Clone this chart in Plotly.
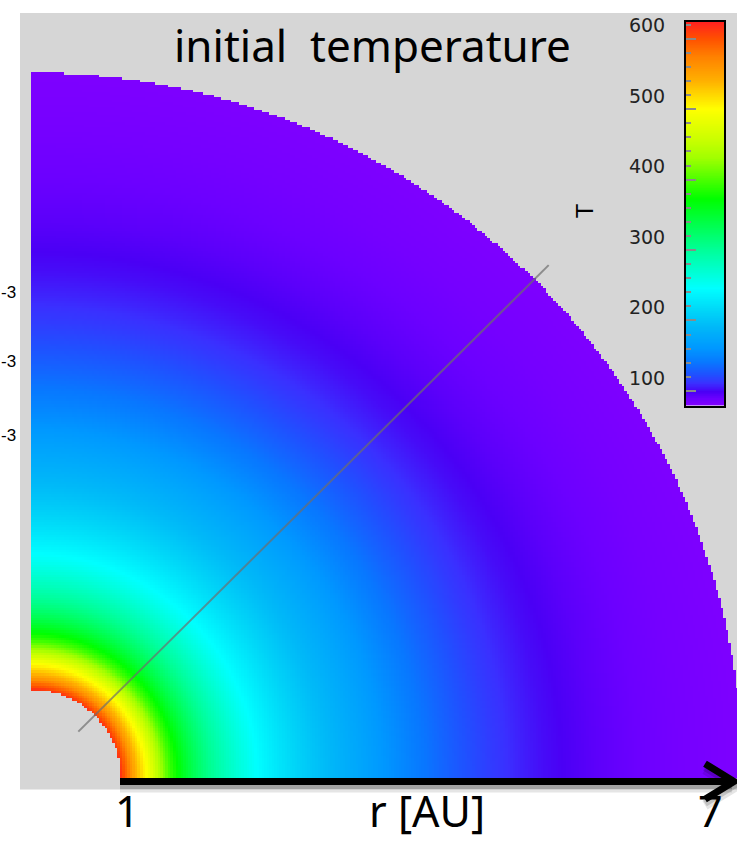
import numpy as np
import plotly.graph_objects as go

# Radial temperature profile of the initial disc (r in AU, T in K)
radius_au = [0.887, 0.92, 0.96, 0.99, 1.02, 1.05, 1.08, 1.11, 1.14, 1.17, 1.20,
             1.24, 1.28, 1.32, 1.36, 1.41, 1.46, 1.52, 1.58, 1.66, 1.74, 1.83,
             1.93, 2.04, 2.16, 2.30, 2.46, 2.64, 2.84, 3.06, 3.30, 3.55, 3.80,
             4.05, 4.30, 4.55, 4.80, 5.05, 5.30, 5.55, 5.80, 6.10, 6.40, 6.70, 7.02]
temperature_k = [615, 598, 580, 562, 548, 535, 522, 510, 498, 485, 470,
                 452, 433, 415, 398, 382, 368, 352, 338, 322, 308, 294,
                 280, 266, 252, 238, 224, 210, 196, 183, 170, 156, 143,
                 132, 122, 114, 107, 101, 97, 93, 90, 87, 84, 82, 80]

# Colour bar range and tick values
t_min, t_max = 79, 624
cbar_ticks = [100, 200, 300, 400, 500, 600]

# Rainbow colour map used for T
cmap_t = [79, 88, 98, 110, 122, 140, 160, 190, 215, 245, 300, 372, 430, 455,
          500, 540, 575, 600, 624]
cmap_c = ["#8000ff", "#6c00ff", "#4a00f5", "#3a30ff", "#2050ff", "#0878ff",
          "#0098ff", "#00b8f8", "#00d8f8", "#00ffff", "#00ff98", "#00ff00",
          "#a0ff00", "#c8ff00", "#ffff00", "#ffb000", "#ff8000", "#ff5000",
          "#ff2020"]
colorscale = [[(t - t_min) / (t_max - t_min), c] for t, c in zip(cmap_t, cmap_c)]

# Page geometry: origin of the disc and pixels per AU
W, H = 737, 841
ox, oy, scale = 31.0, 778.0, 101.4
r_in, r_out = radius_au[0], radius_au[-1]

def px(x):
    return (x - ox) / scale

def py(y):
    return (oy - y) / scale

# Raster of the quarter annulus, shaded from the radial profile
step = 0.025
gx = np.arange(step / 2, r_out + step, step)
gy = np.arange(step / 2, r_out + step, step)
XX, YY = np.meshgrid(gx, gy)
RR = np.hypot(XX, YY)
Z = np.interp(RR, radius_au, temperature_k)
Z[(RR < r_in) | (RR > r_out)] = np.nan

fig = go.Figure()
fig.add_trace(go.Heatmap(
    x=gx, y=gy, z=Z, zmin=t_min, zmax=t_max, colorscale=colorscale,
    hoverinfo="skip", zsmooth=False, showscale=False,
))

# Colour key: a vertical strip on its own small axis pair
key_vals = np.arange(t_min, t_max + 1)
fig.add_trace(go.Heatmap(
    x=[0, 1], y=key_vals, z=[[v, v] for v in key_vals], zmin=t_min, zmax=t_max,
    colorscale=colorscale, showscale=False, hoverinfo="skip",
    xaxis="x2", yaxis="y2",
))

shapes = [
    # grey frame behind the disc
    dict(type="rect", xref="paper", yref="paper", x0=20 / W, x1=1,
         y0=1 - 789 / H, y1=1 - 6 / H, fillcolor="#d6d6d6", line_width=0,
         layer="below"),
    # diagonal slice line
    dict(type="line", x0=0.66 * np.cos(np.pi / 4), y0=0.66 * np.sin(np.pi / 4),
         x1=7.22 * np.cos(np.pi / 4), y1=7.22 * np.sin(np.pi / 4),
         line=dict(color="rgba(110,110,110,0.7)", width=2)),
]

# radius arrow with a soft shadow
ay = py(781)
x_start, x_end = px(120), px(734)
head_dx, head_dy = 29 / scale, 18 / scale
for dy, col, w in [(-6 / scale, "rgba(0,0,0,0.10)", 10),
                   (-4 / scale, "rgba(0,0,0,0.15)", 7),
                   (0, "black", 7)]:
    shapes.append(dict(type="line", x0=x_start, x1=x_end - 0.02, y0=ay + dy, y1=ay + dy,
                       line=dict(color=col, width=w)))
    shapes.append(dict(type="path",
                       path=f"M {x_end - head_dx},{ay + dy + head_dy} L {x_end},{ay + dy} "
                            f"L {x_end - head_dx},{ay + dy - head_dy}",
                       line=dict(color=col, width=w)))

annotations = [
    dict(text="initial&nbsp; temperature", x=372 / W, y=1 - 38 / H, xref="paper",
         yref="paper", xanchor="center", yanchor="middle", showarrow=False,
         font=dict(family="Noto Sans", size=44, color="black")),
    dict(text="T", x=584 / W, y=1 - 206 / H, xref="paper", yref="paper",
         xanchor="center", yanchor="middle", showarrow=False,
         textangle=-90, font=dict(family="Liberation Sans", size=24, color="black")),
]
for label, cx in [("1", 128), ("r [AU]", 427), ("7", 710)]:
    annotations.append(dict(text=label, x=cx / W, y=0, xref="paper", yref="paper",
                            xanchor="center", yanchor="bottom", showarrow=False,
                            borderpad=0,
                            font=dict(family="Noto Sans", size=43, color="black")))
for yy in [288, 357, 432]:
    annotations.append(dict(text="-3", x=0, y=1 - yy / H, xref="paper", yref="paper",
                            xanchor="left", yanchor="middle", showarrow=False,
                            borderpad=0,
                            font=dict(family="Liberation Sans", size=17, color="black")))

fig.update_layout(
    width=W, height=H, margin=dict(l=0, r=0, t=0, b=0),
    paper_bgcolor="white", plot_bgcolor="white",
    showlegend=False,
    xaxis=dict(range=[px(0), px(W)], visible=False, domain=[0, 1]),
    yaxis=dict(range=[py(H), py(0)], visible=False, domain=[0, 1]),
    xaxis2=dict(domain=[686 / W, 724 / W], anchor="y2", range=[0, 1],
                showticklabels=False, ticks="", showgrid=False, zeroline=False,
                showline=True, mirror=True, linecolor="black", linewidth=2),
    yaxis2=dict(domain=[1 - 402 / H, 1 - 15 / H], anchor="x2", range=[t_min, t_max],
                side="left", tickvals=cbar_ticks, ticks="inside", ticklen=10,
                tickwidth=2, tickcolor="#8a8a8a", showgrid=False, zeroline=False,
                showline=True, mirror=True, linecolor="black", linewidth=2,
                ticklabelstandoff=15, ticklabelshift=-13,
                tickfont=dict(family="DejaVu Sans", size=19, color="#222"),
                minor=dict(dtick=20, tick0=0, ticks="inside", ticklen=5, tickwidth=2,
                           tickcolor="#8a8a8a", showgrid=False)),
    shapes=shapes, annotations=annotations,
)

fig.write_html("out.html")
